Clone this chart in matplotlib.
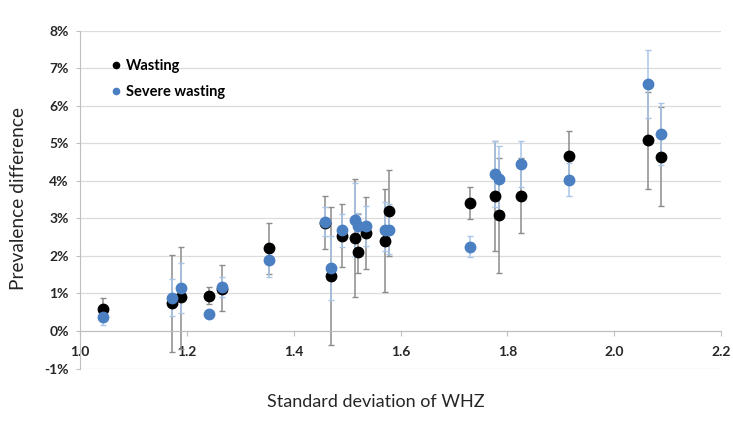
import matplotlib
matplotlib.use('Agg')
import matplotlib.pyplot as plt
from matplotlib.ticker import FuncFormatter, MultipleLocator
import numpy as np

plt.rcParams['font.family'] = ['Lato', 'DejaVu Sans']

# standard deviation of WHZ (x) for each survey
sd_whz = [1.044, 1.172, 1.189, 1.242, 1.265, 1.354, 1.459, 1.469, 1.490, 1.515, 1.520,
          1.535, 1.571, 1.578, 1.730, 1.776, 1.785, 1.825, 1.915, 2.062, 2.087]

# wasting: prevalence difference (%) with lower / upper limits
wasting = [0.58, 0.74, 0.90, 0.94, 1.12, 2.20, 2.87, 1.47, 2.53, 2.47, 2.11,
           2.62, 2.41, 3.20, 3.41, 3.59, 3.08, 3.61, 4.67, 5.09, 4.65]
wasting_lo = [0.27, -0.57, -0.47, 0.72, 0.53, 1.51, 2.18, -0.36, 1.70, 0.90, 1.54,
              1.66, 1.03, 2.00, 2.99, 2.12, 1.55, 2.62, 4.01, 3.79, 3.33]
wasting_hi = [0.89, 2.03, 2.25, 1.17, 1.77, 2.88, 3.60, 3.31, 3.39, 4.05, 3.11,
              3.56, 3.79, 4.30, 3.83, 5.06, 4.62, 4.60, 5.33, 6.38, 5.96]

# severe wasting
severe = [0.37, 0.88, 1.14, 0.46, 1.17, 1.89, 2.90, 1.67, 2.68, 2.96, 2.79,
          2.81, 2.70, 2.70, 2.24, 4.19, 4.04, 4.46, 4.03, 6.59, 5.25]
severe_lo = [0.16, 0.40, 0.47, 0.38, 0.90, 1.45, 2.53, 0.83, 2.23, 2.00, 2.45,
             2.27, 2.12, 2.05, 1.98, 3.31, 3.14, 3.83, 3.59, 5.67, 4.43]
severe_hi = [0.55, 1.39, 1.81, 0.54, 1.45, 2.32, 3.30, 2.52, 3.13, 3.94, 3.14,
             3.33, 3.43, 3.38, 2.52, 5.07, 4.94, 5.07, 4.47, 7.48, 6.09]

x = np.array(sd_whz)
w = np.array(wasting)
s = np.array(severe)
w_err = [w - np.array(wasting_lo), np.array(wasting_hi) - w]
s_err = [s - np.array(severe_lo), np.array(severe_hi) - s]

fig = plt.figure(figsize=(7.33, 4.21), dpi=100)
ax = fig.add_axes([0.109, 0.1247, 0.875, 0.8017])

# error bars first, markers on top
ax.errorbar(x, w, yerr=w_err, fmt='none', ecolor='#8c8c8c', elinewidth=1.1,
            capsize=2, capthick=1.0, zorder=2)
ax.errorbar(x, s, yerr=s_err, fmt='none', ecolor='#a9c6e8', elinewidth=1.1,
            capsize=2, capthick=1.0, zorder=3)
ax.plot(x, w, 'o', color='black', ms=7.5, zorder=4, label='Wasting')
ax.plot(x, s, 'o', color='#4a7fc1', ms=7.5, zorder=5, label='Severe wasting')

ax.set_xlim(1.0, 2.2)
ax.set_ylim(-1, 8)
ax.xaxis.set_major_locator(MultipleLocator(0.2))
ax.yaxis.set_major_locator(MultipleLocator(1))
ax.xaxis.set_major_formatter(FuncFormatter(lambda v, p: '%.1f' % v))
ax.yaxis.set_major_formatter(FuncFormatter(lambda v, p: '%d%%' % round(v)))

ax.grid(axis='y', color='#dcdcdc', lw=0.9)
ax.set_axisbelow(True)
for side in ['top', 'right']:
    ax.spines[side].set_visible(False)
ax.spines['bottom'].set_position(('data', 0))
ax.spines['bottom'].set_color('#bfbfbf')
ax.spines['left'].set_color('#bfbfbf')
ax.tick_params(axis='x', direction='out', length=3.5, color='#bfbfbf', pad=7,
               labelsize=10)
ax.tick_params(axis='y', direction='out', length=3, color='#bfbfbf', pad=5,
               labelsize=10)
for lbl in ax.get_xticklabels() + ax.get_yticklabels():
    lbl.set_fontweight('bold')
    lbl.set_color('#262626')

fig.text(0.513, 0.027, 'Standard deviation of WHZ', ha='center', va='bottom',
         fontsize=13, color='#262626')
fig.text(0.014, 0.528, 'Prevalence difference', ha='left', va='center',
         rotation=90, fontsize=13.8, color='#262626')

leg = ax.legend(loc='upper left', bbox_to_anchor=(0.022, 0.956), frameon=False,
                markerscale=0.6, handletextpad=0.1, handlelength=1.2,
                labelspacing=0.8, prop={'weight': 'bold', 'size': 10.5})

fig.savefig('out.png', dpi=100)
